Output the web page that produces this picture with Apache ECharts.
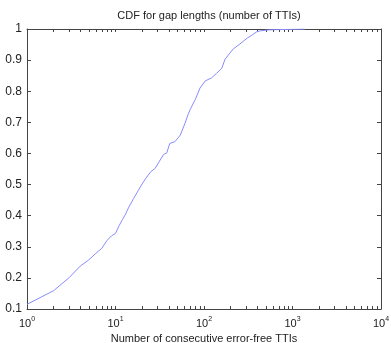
<!DOCTYPE html>
<html>
<head>
<meta charset="utf-8">
<script src="https://cdn.jsdelivr.net/npm/echarts@6/dist/echarts.min.js"></script>
<style>
  html, body { margin: 0; padding: 0; background: #fff; }
  #chart { width: 391px; height: 343px; }
</style>
</head>
<body>
<div id="chart"></div>
<script>
// gap length (TTIs) and cumulative probability
const gapLengths = [1, 2, 3, 4, 5, 6, 7, 8, 9, 10, 11, 12, 13, 14, 16, 18, 20, 22, 25, 28, 32, 35, 38, 41, 47, 54, 61, 66, 70, 76, 80, 90, 103, 122, 139, 159, 173, 214, 255, 309, 355, 394, 430, 533, 700, 1000, 1380];
const cdfValues = [0.115, 0.159, 0.201, 0.238, 0.258, 0.279, 0.295, 0.32, 0.335, 0.343, 0.368, 0.388, 0.405, 0.425, 0.455, 0.48, 0.502, 0.52, 0.541, 0.552, 0.579, 0.597, 0.602, 0.632, 0.638, 0.659, 0.697, 0.725, 0.742, 0.762, 0.774, 0.81, 0.833, 0.843, 0.858, 0.874, 0.903, 0.936, 0.952, 0.971, 0.982, 0.991, 0.994, 0.997, 0.998, 0.999, 1.0];
const xMajorTicks = [1, 10, 100, 1000, 10000];
const xExponents = ["0", "1", "2", "3", "4"];
const yTicks = ["0.1", "0.2", "0.3", "0.4", "0.5", "0.6", "0.7", "0.8", "0.9", "1"];

// log minor ticks 1..9 in each decade
const xAllTicks = [];
for (let d = 1; d < 10000; d *= 10) {
  for (let k = 1; k < 10; k++) xAllTicks.push(k * d);
}
xAllTicks.push(10000);

const font = "Liberation Sans";
const axisColor = "#444";

const logAxis = (extra) => Object.assign({
  type: "log",
  logBase: 10,
  min: 1,
  max: 10000,
  axisLine: { show: true, lineStyle: { color: axisColor, width: 1 } },
  axisTick: { show: true, inside: true, length: 3, customValues: xAllTicks, lineStyle: { color: axisColor } },
  splitLine: { show: false },
  minorTick: { show: false },
}, extra);

const valAxis = (extra) => Object.assign({
  type: "value",
  min: 0.1,
  max: 1,
  interval: 0.1,
  axisLine: { show: true, lineStyle: { color: axisColor, width: 1 } },
  axisTick: { show: true, inside: true, length: 4, lineStyle: { color: axisColor } },
  splitLine: { show: false },
}, extra);

const chart = echarts.init(document.getElementById("chart"));
chart.setOption({
  animation: false,
  backgroundColor: "#fff",
  textStyle: { fontFamily: font },
  title: {
    text: "CDF for gap lengths (number of TTIs)",
    left: 204,
    textAlign: "center",
    top: 5,
    textStyle: { fontFamily: font, fontSize: 11, fontWeight: "normal", color: "#222" },
  },
  grid: { left: 27, right: 10, top: 29, bottom: 34, containLabel: false, outerBoundsMode: "none" },
  xAxis: [
    logAxis({
      position: "bottom",
      name: "Number of consecutive error-free TTIs",
      nameLocation: "middle",
      nameGap: 20,
      nameTextStyle: { fontFamily: font, fontSize: 11, color: "#222" },
      axisLabel: {
        show: true,
        margin: 7,
        customValues: xMajorTicks,
        formatter: (v) => {
          const i = xMajorTicks.indexOf(v);
          return "{b|10}{s|" + (i >= 0 ? xExponents[i] : "") + "}";
        },
        rich: {
          b: { fontFamily: font, fontSize: 11, color: "#222", verticalAlign: "bottom" },
          s: { fontFamily: font, fontSize: 7, color: "#222", verticalAlign: "top", padding: [0, 0, 6, 0] },
        },
      },
    }),
    logAxis({ position: "top", axisLabel: { show: false } }),
  ],
  yAxis: [
    valAxis({
      position: "left",
      axisLabel: {
        margin: 5,
        fontFamily: font,
        fontSize: 12,
        color: "#222",
        formatter: (v) => yTicks[Math.round(v * 10) - 1],
      },
    }),
    valAxis({ position: "right", axisLabel: { show: false } }),
  ],
  series: [
    {
      name: "CDF",
      type: "line",
      xAxisIndex: 0,
      yAxisIndex: 0,
      data: gapLengths.map((g, i) => [g, cdfValues[i]]),
      showSymbol: false,
      symbol: "none",
      lineStyle: { color: "#8a8aff", width: 1 },
    },
  ],
});
</script>
</body>
</html>
